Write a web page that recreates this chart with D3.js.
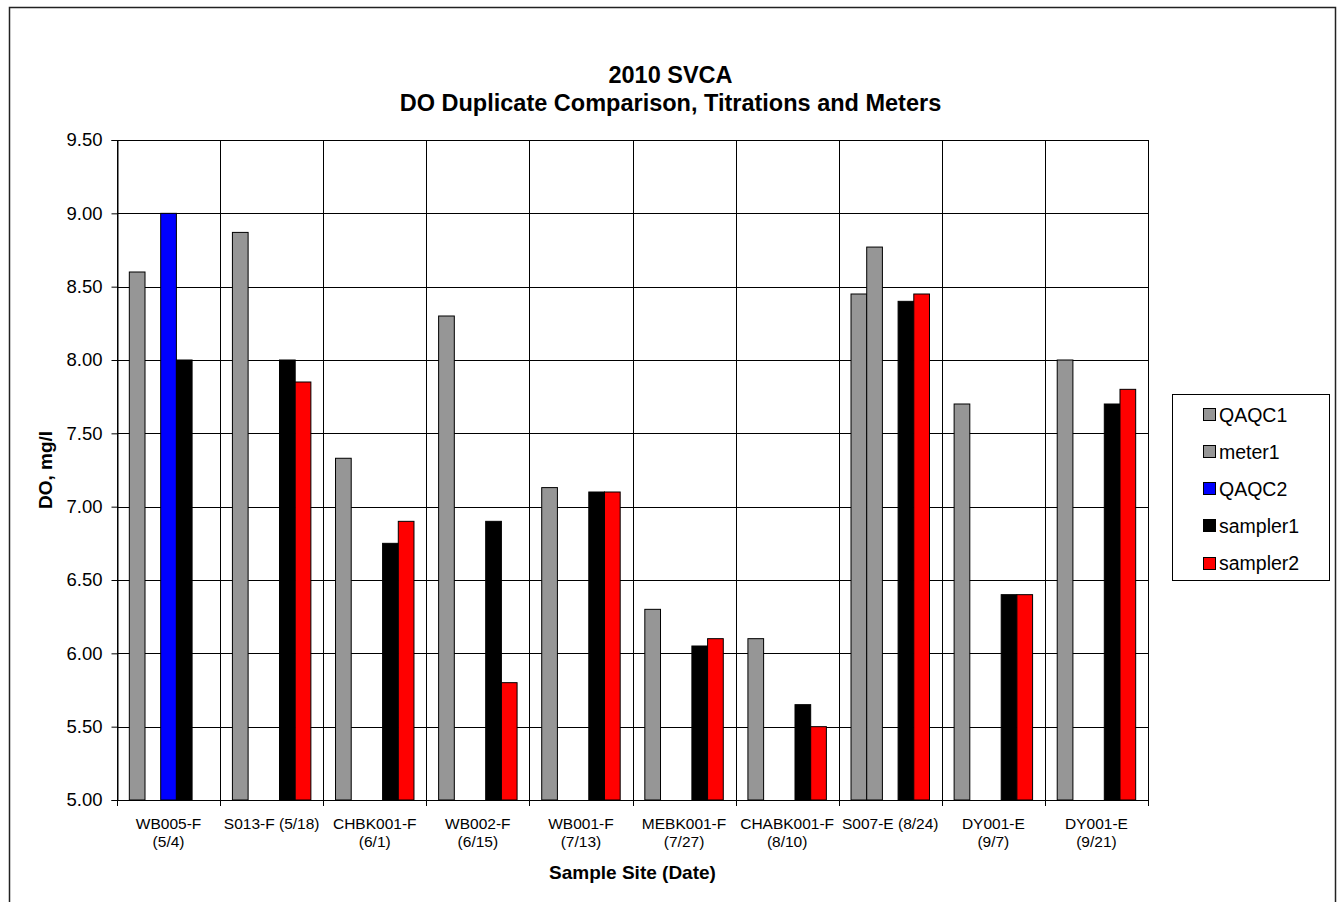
<!DOCTYPE html>
<html>
<head>
<meta charset="utf-8">
<script src="https://cdn.jsdelivr.net/npm/d3@7"></script>
<style>
  html, body { margin: 0; padding: 0; background: #fff; }
  svg { display: block; font-family: "Liberation Sans", Arial, sans-serif; }
</style>
</head>
<body>
<svg id="chart" width="1341" height="902"></svg>
<script>
// Sample sites (two-line tick labels) and dissolved-oxygen readings, mg/l
const categories = ["WB005-F (5/4)", "S013-F (5/18)", "CHBK001-F (6/1)", "WB002-F (6/15)", "WB001-F (7/13)",
                    "MEBK001-F (7/27)", "CHABK001-F (8/10)", "S007-E (8/24)", "DY001-E (9/7)", "DY001-E (9/21)"];
const tickLabels = [["WB005-F", "(5/4)"], ["S013-F (5/18)"], ["CHBK001-F", "(6/1)"], ["WB002-F", "(6/15)"],
                    ["WB001-F", "(7/13)"], ["MEBK001-F", "(7/27)"], ["CHABK001-F", "(8/10)"], ["S007-E (8/24)"],
                    ["DY001-E", "(9/7)"], ["DY001-E", "(9/21)"]];
const seriesNames = ["QAQC1", "meter1", "QAQC2", "sampler1", "sampler2"];
const seriesColors = ["#969696", "#969696", "#0000ff", "#000000", "#ff0000"];
const QAQC1    = [8.60, 8.87, 7.33, 8.30, 7.13, 6.30, 6.10, 8.45, 7.70, 8.00];
const meter1   = [null, null, null, null, null, null, null, 8.77, null, null];
const QAQC2    = [9.00, null, null, null, null, null, null, null, null, null];
const sampler1 = [8.00, 8.00, 6.75, 6.90, 7.10, 6.05, 5.65, 8.40, 6.40, 7.70];
const sampler2 = [null, 7.85, 6.90, 5.80, 7.10, 6.10, 5.50, 8.45, 6.40, 7.80];
const yTicks = [5.00, 5.50, 6.00, 6.50, 7.00, 7.50, 8.00, 8.50, 9.00, 9.50];

const seriesValues = [QAQC1, meter1, QAQC2, sampler1, sampler2];

const svg = d3.select("#chart");
const plot = { left: 117, right: 1148, top: 140, bottom: 800 };

// Outer chart frame
svg.append("rect")
  .attr("x", 9.5).attr("y", 7.5).attr("width", 1326).attr("height", 1000)
  .attr("fill", "#fff").attr("stroke", "#222").attr("stroke-width", 1.5);

const x = d3.scaleBand().domain(categories).range([plot.left, plot.right]).padding(0);
const xInner = d3.scaleBand().domain(seriesNames).range([0, x.bandwidth()])
  .paddingInner(0).paddingOuter(0.785);
const y = d3.scaleLinear().domain([5, 9.5]).range([plot.bottom, plot.top]);

const crisp = v => Math.round(v) + 0.5;

// Horizontal gridlines
svg.append("g").selectAll("line").data(yTicks).join("line")
  .attr("x1", plot.left).attr("x2", plot.right)
  .attr("y1", d => crisp(y(d))).attr("y2", d => crisp(y(d)))
  .attr("stroke", "#000").attr("stroke-width", 1);

// Vertical gridlines at category boundaries
const bounds = categories.map(c => x(c)).concat([plot.right]);
svg.append("g").selectAll("line").data(bounds).join("line")
  .attr("x1", d => crisp(d)).attr("x2", d => crisp(d))
  .attr("y1", plot.top).attr("y2", plot.bottom)
  .attr("stroke", "#000").attr("stroke-width", 1);

// Bars
const barData = [];
seriesValues.forEach((vals, si) => {
  vals.forEach((v, ci) => {
    if (v !== null) barData.push({ cat: categories[ci], series: seriesNames[si], color: seriesColors[si], value: v });
  });
});
svg.append("g").selectAll("rect").data(barData).join("rect")
  .attr("x", d => x(d.cat) + xInner(d.series))
  .attr("y", d => y(d.value))
  .attr("width", xInner.bandwidth())
  .attr("height", d => y(5) - y(d.value))
  .attr("fill", d => d.color)
  .attr("stroke", "#000").attr("stroke-width", 1);

// Y axis
const yAxis = d3.axisLeft(y).tickValues(yTicks).tickFormat(d3.format(".2f")).tickSize(6).tickPadding(9);
const gy = svg.append("g").attr("transform", `translate(${crisp(plot.left)},0)`).call(yAxis);
gy.select(".domain").attr("stroke", "#000");
gy.selectAll(".tick line").attr("stroke", "#000");
gy.selectAll(".tick text").attr("font-size", "18.5px").attr("fill", "#000")
  .attr("font-family", "'Liberation Sans', Arial, sans-serif");

// X axis line and boundary ticks
svg.append("line")
  .attr("x1", plot.left).attr("x2", plot.right)
  .attr("y1", crisp(plot.bottom)).attr("y2", crisp(plot.bottom))
  .attr("stroke", "#000");
svg.append("g").selectAll("line").data(bounds).join("line")
  .attr("x1", d => crisp(d)).attr("x2", d => crisp(d))
  .attr("y1", plot.bottom).attr("y2", plot.bottom + 6)
  .attr("stroke", "#000");

// Category labels
const labelG = svg.append("g").attr("font-size", "15.5px").attr("fill", "#000").attr("text-anchor", "middle");
categories.forEach((c, i) => {
  const t = labelG.append("text").attr("x", x(c) + x.bandwidth() / 2).attr("y", 829);
  tickLabels[i].forEach((line, li) => {
    t.append("tspan").attr("x", x(c) + x.bandwidth() / 2).attr("dy", li === 0 ? 0 : 17.5).text(line);
  });
});

// Axis titles
svg.append("text")
  .attr("x", (plot.left + plot.right) / 2).attr("y", 879)
  .attr("text-anchor", "middle").attr("font-size", "19px").attr("font-weight", "bold")
  .text("Sample Site (Date)");
svg.append("text")
  .attr("transform", `translate(52,${(plot.top + plot.bottom) / 2}) rotate(-90)`)
  .attr("text-anchor", "middle").attr("font-size", "19px").attr("font-weight", "bold")
  .text("DO, mg/l");

// Chart title
const title = svg.append("text").attr("text-anchor", "middle").attr("font-size", "23.5px").attr("font-weight", "bold");
title.append("tspan").attr("x", 670.5).attr("y", 83).text("2010 SVCA");
title.append("tspan").attr("x", 670.5).attr("y", 111).text("DO Duplicate Comparison, Titrations and Meters");

// Legend
const legend = svg.append("g");
legend.append("rect")
  .attr("x", 1172.5).attr("y", 394.5).attr("width", 157).attr("height", 186)
  .attr("fill", "#fff").attr("stroke", "#000").attr("stroke-width", 1);
const rowY = d3.scalePoint().domain(seriesNames).range([414.5, 563]);
const items = legend.selectAll("g.item").data(seriesNames).join("g").attr("class", "item");
items.append("rect")
  .attr("x", 1203.5).attr("y", d => Math.round(rowY(d) - 6.5) + 0.5)
  .attr("width", 12).attr("height", 12)
  .attr("fill", (d, i) => seriesColors[i]).attr("stroke", "#000").attr("stroke-width", 1);
items.append("text")
  .attr("x", 1219).attr("y", d => rowY(d)).attr("dy", "0.36em")
  .attr("font-size", "19.5px").attr("fill", "#000")
  .text(d => d);
</script>
</body>
</html>
